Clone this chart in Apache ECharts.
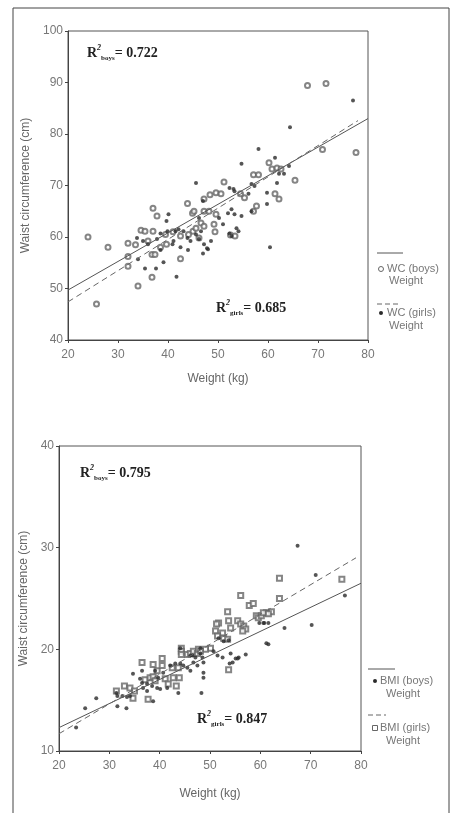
<!DOCTYPE html>
<html>
<head>
<meta charset="utf-8">
<script src="https://cdn.jsdelivr.net/npm/echarts@6/dist/echarts.min.js"></script>
<style>
  html, body { margin: 0; padding: 0; background: #fff; }
  #chart { width: 452px; height: 813px; }
</style>
</head>
<body>
<div id="chart"></div>
<script>
// waist circumference vs weight (top panel)
var wcBoys = [[24,60],[28,58],[25.7,47],[34,50.5],[36.8,52.2],[42.5,55.8],[32,56.2],[32,58.8],[32,54.3],[37,65.6],
  [37.8,64.1],[43.9,66.5],[44.9,64.6],[45.2,65],[47.2,65],[48.4,68.2],[49.6,68.6],[51.2,70.7],[50.6,68.4],[47.2,67.4],
  [49.2,62.5],[49.4,61],[52.5,60.4],[53.4,60.2],[55.3,67.6],[54.5,68.4],[57.7,66],[57.1,65],[61.4,68.4],[62.2,67.4],
  [65.4,71],[60.8,73.2],[61.8,73.4],[62.6,73.2],[57.1,72.1],[58.1,72.1],[60.2,74.4],[70.9,77],[77.6,76.4],[67.9,89.4],
  [71.6,89.8],[34.6,61.3],[35.4,61.1],[37,61.1],[45,61.1],[45.6,61.7],[44.1,60.5],[36,59.2],[36.8,56.6],[37.4,56.6],
  [39.7,58.6],[46.6,62.7],[47.2,62.1],[48.2,65],[49.6,64.4],[46.2,59.8],[39.5,60.5],[41,61],[42.5,60.2],[38.5,58],[33.5,58.5]];
var wcGirls = [[41.7,52.3],[35.4,53.9],[37.6,53.9],[39.1,55.1],[34,55.7],[45.6,70.5],[47,67],[40.1,64.4],[39.7,63.1],[33.8,59.8],
  [35,59.2],[36,58.6],[37.8,59.6],[38.5,60.7],[39.9,61.1],[40.9,58.6],[41.1,59.2],[41.5,61.1],[42.1,61.5],[43.1,61.1],
  [43.9,59.8],[44.5,59.2],[45.6,60.5],[46.2,59.6],[46.6,61.1],[47.8,57.8],[47,56.8],[46.2,63.7],[52.3,69.5],[53.1,69.3],
  [53.3,68.9],[56.1,68.4],[56.7,70.3],[57.3,69.9],[59.8,68.6],[61.8,70.5],[62.2,72.3],[63.2,72.3],[61.4,75.4],[54.7,74.2],
  [58.1,77.1],[64.4,81.3],[64.2,73.8],[60.4,58],[77,86.5],[52,64.6],[53.3,64.4],[52.7,65.4],[56.7,65],[59.8,66.4],
  [51,62.5],[52.3,60.7],[52.7,60.2],[54.1,61.1],[53.7,61.7],[47.2,58.6],[48,57.6],[48.6,59.2],[54.7,64.1],[50.2,63.7],
  [38.5,57.5],[42.5,58],[44,57.5]];
var wcFitBoys = [[20,49.7],[80,83]];
var wcFitGirls = [[20,47.4],[78,82.6]];

// BMI vs weight (bottom panel)
var bmiBoys = [[23.4,12.3],[25.2,14.2],[27.4,15.2],[31.6,14.4],[33.4,14.2],[31.4,15.7],[31.6,15.4],[32.6,15.4],[33.5,15.3],[34.1,15.4],
  [34.7,17.6],[36.1,17.1],[36.5,16.7],[36.7,16.2],[37.5,15.9],[36.5,17.9],[38.7,14.9],[37.5,16.6],[38.5,16.4],[39.5,16.2],
  [40.1,16.1],[39.1,17.9],[39.7,17.2],[40.7,17.7],[41.5,16.2],[42.1,18.4],[43.1,18.6],[44.1,18.6],[44.7,18.4],[45.5,18.2],
  [46.1,17.9],[43.7,15.7],[46.5,19.4],[47.1,19.2],[48.1,19.6],[48.5,19.2],[48.7,18.7],[48.3,15.7],[48.7,17.7],[48.7,17.2],
  [48.1,20.1],[44.1,20.1],[67.4,30.2],[71,27.3],[76.8,25.3],[59.8,22.6],[60.6,22.6],[64.8,22.1],[70.2,22.4],[61.2,20.6],
  [61.6,20.5],[51.7,21.1],[52.7,20.8],[53.7,20.9],[50.7,19.8],[51.5,19.4],[52.5,19.2],[54.1,19.6],[55.1,19.1],[55.7,19.2],
  [57.1,19.5],[54.5,18.7],[55.5,19.1],[53.9,18.6],[46.1,19.4],[46.7,18.7],[47.5,18.4],[60.8,22.6],[61.6,22.6]];
var bmiGirls = [[31.4,15.9],[34.7,15.2],[33,16.4],[34.1,16.2],[35,15.9],[36.5,18.7],[37.7,15.1],[37.1,17],[38.1,17.2],[38.7,17.3],
  [39.1,16.9],[38.7,18.5],[39.5,17.9],[40.5,18.4],[40.5,19.1],[41.1,17.1],[41.7,16.6],[42.7,17.2],[43.3,16.4],[43.9,17.2],
  [42.5,18.2],[43.7,18.2],[44.3,20.1],[44.3,19.8],[44.3,19.5],[45.5,19.5],[46.1,19.6],[46.7,19.8],[47.5,19.6],[47.7,20],
  [63.8,27],[76.2,26.9],[56.1,25.3],[63.8,25],[57.8,24.3],[58.6,24.5],[53.5,23.7],[51.7,22.6],[51.3,22.5],[53.7,22.8],
  [54.1,22.1],[55.5,22.8],[56.1,22.5],[56.7,22.3],[57.1,22],[56.5,21.8],[59.2,23.3],[59.6,23.1],[60.2,23.3],[61.2,23.6],
  [62.2,23.7],[51.1,21.8],[52.5,21.6],[51.5,21.3],[52.7,21.1],[53.5,21],[50.1,20.1],[49.1,20],[48.1,19.8],[53.7,18],
  [60.6,23.6],[61.6,23.5]];
var bmiFitBoys = [[20,12.3],[80,26.5]];
var bmiFitGirls = [[20,11.7],[79,29]];

var r2Top = ["0.722", "0.685"];
var r2Bottom = ["0.795", "0.847"];

(function(){
  var myChart = echarts.init(document.getElementById('chart'));
  var ink = "#2a2a2a";
  var sans = "Liberation Sans";
  var serif = "Liberation Serif";

  function xAx(idx, gap) {
    return {
      gridIndex: idx, type: "value", min: 20, max: 80, interval: 10,
      name: "Weight (kg)", nameLocation: "middle", nameGap: gap,
      nameTextStyle: { color: "#666", fontSize: 12, fontFamily: sans },
      axisLine: { lineStyle: { color: "#444" } },
      axisTick: { length: 3, lineStyle: { color: "#444" } },
      axisLabel: { color: "#777", fontSize: 12, fontFamily: sans, margin: 9 },
      splitLine: { show: false }
    };
  }
  function yAx(idx, min, max, gap) {
    return {
      gridIndex: idx, type: "value", min: min, max: max, interval: 10,
      name: "Waist circumference (cm)", nameLocation: "middle", nameGap: gap,
      nameTextStyle: { color: "#666", fontSize: 12, fontFamily: sans },
      axisLine: { lineStyle: { color: "#444" } },
      axisTick: { length: 3, lineStyle: { color: "#444" } },
      axisLabel: { color: "#777", fontSize: 12, fontFamily: sans, margin: 5 },
      splitLine: { show: false }
    };
  }
  function r2(left, top, sub, val) {
    return {
      type: "text", left: left, top: top,
      style: {
        text: "{r|R}{sup|2}{sub|" + sub + "}{v|= " + val + "}",
        fill: "#222",
        rich: {
          r: { fontFamily: serif, fontWeight: "bold", fontSize: 14, lineHeight: 18 },
          sup: { fontFamily: serif, fontWeight: "bold", fontStyle: "italic", fontSize: 8, verticalAlign: "top", lineHeight: 8 },
          sub: { fontFamily: serif, fontWeight: "bold", fontSize: 7, verticalAlign: "bottom", lineHeight: 8 },
          v: { fontFamily: serif, fontWeight: "bold", fontSize: 14, lineHeight: 18 }
        }
      }
    };
  }
  function legText(x, y, t) {
    return { type: "text", left: x, top: y, style: { text: t, fill: "#777", font: "11px " + sans } };
  }

  var option = {
    backgroundColor: "#fff",
    animation: false,
    grid: [
      { left: 68, top: 31, width: 300, height: 309, show: true, borderColor: "#555", borderWidth: 1 },
      { left: 59, top: 446, width: 302, height: 305, show: true, borderColor: "#555", borderWidth: 1 }
    ],
    xAxis: [xAx(0, 33), xAx(1, 37)],
    yAxis: [yAx(0, 40, 100, 31), yAx(1, 10, 40, 22)],
    series: [
      { type: "scatter", xAxisIndex: 0, yAxisIndex: 0, data: wcBoys, symbol: "emptyCircle", symbolSize: 5,
        itemStyle: { color: "#666", borderWidth: 1 } },
      { type: "scatter", xAxisIndex: 0, yAxisIndex: 0, data: wcGirls, symbol: "circle", symbolSize: 4,
        itemStyle: { color: ink } },
      { type: "line", xAxisIndex: 0, yAxisIndex: 0, data: wcFitBoys, symbol: "none",
        lineStyle: { color: "#555", width: 1 } },
      { type: "line", xAxisIndex: 0, yAxisIndex: 0, data: wcFitGirls, symbol: "none",
        lineStyle: { color: "#666", width: 1, type: [6, 4] } },
      { type: "scatter", xAxisIndex: 1, yAxisIndex: 1, data: bmiGirls, symbol: "emptyRect", symbolSize: 5,
        itemStyle: { color: "#666", borderWidth: 1 } },
      { type: "scatter", xAxisIndex: 1, yAxisIndex: 1, data: bmiBoys, symbol: "circle", symbolSize: 4,
        itemStyle: { color: ink } },
      { type: "line", xAxisIndex: 1, yAxisIndex: 1, data: bmiFitBoys, symbol: "none",
        lineStyle: { color: "#555", width: 1 } },
      { type: "line", xAxisIndex: 1, yAxisIndex: 1, data: bmiFitGirls, symbol: "none",
        lineStyle: { color: "#666", width: 1, type: [6, 4] } }
    ],
    graphic: [
      { type: "rect", shape: { x: 13, y: 8, width: 436, height: 830 },
        style: { fill: null, stroke: "#444", lineWidth: 1 } },
      r2(87, 44, "boys", r2Top[0]),
      r2(216, 299, "girls", r2Top[1]),
      r2(80, 464, "boys", r2Bottom[0]),
      r2(197, 710, "girls", r2Bottom[1]),
      // top legend
      { type: "line", shape: { x1: 377, y1: 253, x2: 403, y2: 253 }, style: { stroke: "#555", lineWidth: 1 } },
      { type: "circle", shape: { cx: 381, cy: 269, r: 2.5 }, style: { fill: "#fff", stroke: "#666", lineWidth: 1 } },
      legText(387, 263, "WC (boys)"),
      legText(389, 275, "Weight"),
      { type: "line", shape: { x1: 377, y1: 304, x2: 401, y2: 304 }, style: { stroke: "#666", lineWidth: 1, lineDash: [5, 3] } },
      { type: "circle", shape: { cx: 381, cy: 313, r: 2 }, style: { fill: ink } },
      legText(387, 307, "WC (girls)"),
      legText(389, 320, "Weight"),
      // bottom legend
      { type: "line", shape: { x1: 368, y1: 669, x2: 395, y2: 669 }, style: { stroke: "#555", lineWidth: 1 } },
      { type: "circle", shape: { cx: 375, cy: 681, r: 2 }, style: { fill: ink } },
      legText(380, 675, "BMI (boys)"),
      legText(386, 688, "Weight"),
      { type: "line", shape: { x1: 368, y1: 715, x2: 386, y2: 715 }, style: { stroke: "#666", lineWidth: 1, lineDash: [5, 3] } },
      { type: "rect", shape: { x: 372.5, y: 725.5, width: 5, height: 5 }, style: { fill: "#fff", stroke: "#666", lineWidth: 1 } },
      legText(380, 722, "BMI (girls)"),
      legText(386, 735, "Weight")
    ]
  };
  myChart.setOption(option);
  window.addEventListener("resize", function() {
    myChart.resize();
  });
})();
</script>
</body>
</html>
